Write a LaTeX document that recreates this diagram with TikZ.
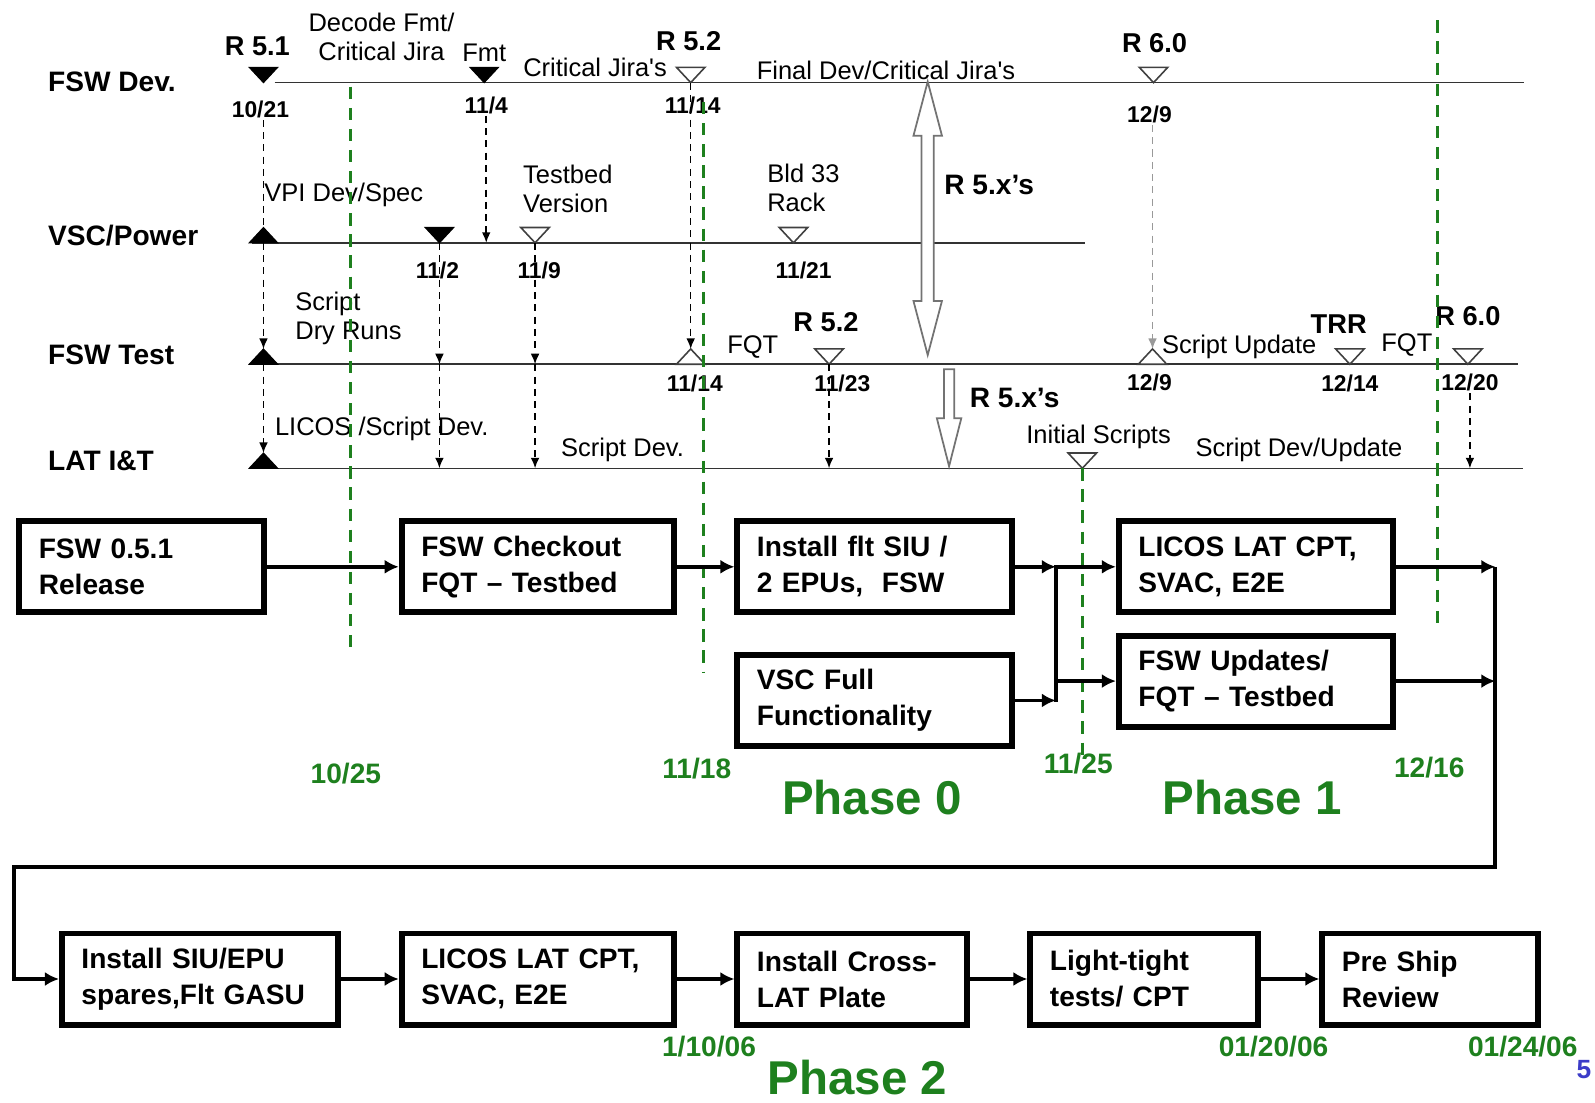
\documentclass[tikz,border=0pt]{standalone}
\usepackage{fontspec}
\setmainfont{Liberation Sans}
\usetikzlibrary{arrows.meta}
\definecolor{phasegreen}{RGB}{30,128,30}
\definecolor{pageblue}{RGB}{60,60,200}

\tikzset{
  tridown/.pic={\path[pic actions] (-14,-15) -- (14,-15) -- (0,0) -- cycle;
    \coordinate (-tip) at (0,0); \coordinate (-top) at (0,-15);},
  triup/.pic={\path[pic actions] (-14,0) -- (14,0) -- (0,-15) -- cycle;
    \coordinate (-base) at (0,0); \coordinate (-top) at (0,-15);}
}

\begin{document}
\begin{tikzpicture}[x=0.02034cm, y=-0.0204cm,
      lane/.style={font=\bfseries\fontsize{16}{19}\selectfont, anchor=west, inner sep=0},
      rel/.style={font=\bfseries\fontsize{15.5}{18}\selectfont, inner sep=0},
      day/.style={font=\bfseries\fontsize{13}{15}\selectfont, inner sep=1pt},
      note/.style={font=\fontsize{14.5}{16.5}\selectfont, inner sep=0},
      gdate/.style={font=\bfseries\fontsize{16}{19}\selectfont, text=phasegreen, inner sep=0},
      phase/.style={font=\bfseries\fontsize{27}{30}\selectfont, text=phasegreen, inner sep=0},
      task/.style={draw, line width=3.4pt, anchor=north west, align=left, inner xsep=0.39cm, inner ysep=0pt,
        minimum width=#1*0.02034cm, text width=#1*0.02034cm-0.78cm, minimum height=1.82cm,
        font=\bfseries\fontsize{16}{20.5}\selectfont},
      track/.style={line width=0.9pt, draw=black!80},
      flow/.style={line width=2.2pt, -{Latex[length=8pt,width=8pt]}},
      dep/.style={line width=0.9pt, dash pattern=on 4pt off 3pt, -{Latex[length=6pt,width=5pt]}},
      cutoff/.style={line width=1.7pt, draw=phasegreen, dash pattern=on 7pt off 5pt},
      hollow/.style={draw=black!55, fill=white, line width=1pt},
      fullmk/.style={draw=black, fill=black, line width=0.6pt},
      openmk/.style={draw=black!75, fill=white, line width=0.9pt}]

    \useasboundingbox (0,0) rectangle (1568,1081);

    % lanes
    \node[lane] (devlbl)  at (47,80)  {FSW Dev.};
    \node[lane] (vsclbl)  at (47,231) {VSC/Power};
    \node[lane] (testlbl) at (47,348) {FSW Test};
    \node[lane] (latlbl)  at (47,452) {LAT I\&T};
    \draw[track] (270,81) -- (1498,81);
    \draw[track] (248,238) -- (1067,238);
    \draw[track] (248,357) -- (1492,357);
    \draw[track] (248,459) -- (1497,459);

    % milestones
    \foreach \nm/\x/\y in {dA/259/81, dB/476/81, vB/432/238}
      \pic[fullmk] (\nm) at (\x,\y) {tridown};
    \foreach \nm/\x/\y in {vA/259/238, tA/259/357, lA/259/459}
      \pic[fullmk] (\nm) at (\x,\y) {triup};
    \foreach \nm/\x/\y in {dC/679/81, dD/1134/81, vC/526/238, vD/780/238, tC/815/357, tE/1327/357, tF/1443/357, lB/1064/459}
      \pic[openmk] (\nm) at (\x,\y) {tridown};
    \foreach \nm/\x/\y in {tB/679/357, tD/1133/357}
      \pic[openmk] (\nm) at (\x,\y) {triup};

    \node[rel] (r51) at (253,45) {R 5.1};
    \node[note, align=center] (decode) at (375,36) {Decode Fmt/\\Critical Jira};
    \node[note] (fmt) at (476,52) {Fmt};
    \node[note] (critj) at (585,66) {Critical Jira\textquotesingle s};
    \node[rel] (r52a) at (677,40) {R 5.2};
    \node[note] (finaldev) at (871,69) {Final Dev/Critical Jira\textquotesingle s};
    \node[rel] (r60a) at (1135,42) {R 6.0};
    \node[note] (vpi) at (338,191) {VPI Dev/Spec};
    \node[note, align=left, anchor=west] (testbed) at (514,185) {Testbed\\Version};
    \node[note, align=left, anchor=west] (bld33) at (754,184) {Bld 33\\Rack};
    \node[rel, font=\bfseries\fontsize{16}{19}\selectfont, anchor=west] (r5xa) at (928,181) {R 5.x’s};
    \node[note, align=left, anchor=west] (dryrun) at (290,312) {Script\\Dry Runs};
    \node[note] (fqta) at (740,340) {FQT};
    \node[rel] (r52b) at (812,316) {R 5.2};
    \node[rel, font=\bfseries\fontsize{16}{19}\selectfont, anchor=west] (r5xb) at (953,390) {R 5.x’s};
    \node[note, anchor=west] (scrupd) at (1142,340) {Script Update};
    \node[rel] (trr) at (1316,318) {TRR};
    \node[note] (fqtb) at (1383,338) {FQT};
    \node[rel] (r60b) at (1443,310) {R 6.0};
    \node[note, anchor=west] (licosdev) at (270,420) {LICOS /Script Dev.};
    \node[note] (scrdev) at (612,441) {Script Dev.};
    \node[note] (initscr) at (1080,428) {Initial Scripts};
    \node[note] (scrdevupd) at (1277,441) {Script Dev/Update};

    \node[day] (d1021)  at (256,107) {10/21};
    \node[day] (d114)   at (478,103) {11/4};
    \node[day] (d1114a) at (681,103) {11/14};
    \node[day] (d129a)  at (1130,112) {12/9};
    \node[day] (d112)   at (430,265) {11/2};
    \node[day] (d119)   at (530,265) {11/9};
    \node[day] (d1121)  at (790,265) {11/21};
    \node[day] (d1114b) at (683,376) {11/14};
    \node[day] (d1123)  at (828,376) {11/23};
    \node[day] (d129b)  at (1130,375) {12/9};
    \node[day] (d1214)  at (1327,376) {12/14};
    \node[day] (d1220)  at (1445,375) {12/20};

    % hand-offs between lanes
    \coordinate (vfmt) at (478,238);
    \draw[dep, -] (d1021.south -| vA-top) -- (vA-top);
    \draw[dep] (vA-base) -- (tA-top);
    \draw[dep] (tA-base) -- (lA-top);
    \draw[dep] (d114) -- (vfmt);
    \draw[dep] (vB-tip) -- (vB-tip |- tA-base);
    \draw[dep] (vB-tip |- tA-base) -- (vB-tip |- lA-base);
    \draw[dep] (vC-tip) -- (vC-tip |- tA-base);
    \draw[dep] (vC-tip |- tA-base) -- (vC-tip |- lA-base);
    \draw[dep] (dC-tip) -- (tB-top);
    \draw[dep] (tC-tip) -- (tC-tip |- lA-base);
    \draw[dep, draw=black!40] (d129a.south -| tD-top) -- (tD-top);
    \draw[dep] (d1220) -- (d1220 |- lA-base);

    \draw[hollow] (912,80) -- (926,133) -- (918,133) -- (918,295) -- (926,295) -- (912,348)
      -- (898,295) -- (906,295) -- (906,133) -- (898,133) -- cycle;
    \draw[hollow] (928,362) -- (938,362) -- (938,410) -- (945,410) -- (933,457)
      -- (921,410) -- (928,410) -- cycle;

    % phase cut-offs
    \draw[cutoff] (345,85) -- (345,640);
    \draw[cutoff] (692,100) -- (692,660);
    \draw[cutoff] (lB-tip) -- ++(0,281);
    \draw[cutoff] (1413,20) -- (1413,618);
    \node[gdate] (g1025) at (340,758) {10/25};
    \node[gdate] (g1118) at (685,753) {11/18};
    \node[gdate] (g1125) at (1060,748) {11/25};
    \node[gdate] (g1216) at (1405,752) {12/16};
    \node[phase] (ph0) at (857,782) {Phase 0};
    \node[phase] (ph1) at (1231,782) {Phase 1};
    \node[phase] (ph2) at (843,1056) {Phase 2};
    \node[gdate] (g0110) at (697,1026) {1/10/06};
    \node[gdate] (g0120) at (1252,1026) {01/20/06};
    \node[gdate] (g0124) at (1497,1026) {01/24/06};
    \node[font=\bfseries\fontsize{15}{18}\selectfont, text=pageblue, inner sep=0] (pgno) at (1557,1048) {5};

    % tasks
    \node[task=241] (fsw051)   at (16,508)   {FSW 0.5.1\\Release};
    \node[task=268] (checkout) at (392,508)  {FSW Checkout\\FQT – Testbed};
    \node[task=270] (install)  at (722,508)  {Install flt SIU /\\2 EPUs,\ \ FSW};
    \node[task=270] (vscfull)  at (722,639)  {VSC Full\\Functionality};
    \node[task=269] (licos1)   at (1097,508) {LICOS LAT CPT,\\SVAC, E2E};
    \node[task=269] (updates)  at (1097,620) {FSW Updates/\\FQT – Testbed};
    \node[task=271] (siu)      at (58,912)   {Install SIU/EPU\\spares,Flt GASU};
    \node[task=268] (licos2)   at (392,912)  {LICOS LAT CPT,\\SVAC, E2E};
    \node[task=226] (cross)    at (722,912)  {Install Cross-\\LAT Plate};
    \node[task=224] (light)    at (1010,912) {Light-tight\\tests/ CPT};
    \node[task=212] (preship)  at (1297,912) {Pre Ship\\Review};

    \coordinate (merge) at (1038,600);
    \coordinate (ret) at (1470,850);
    \coordinate (retL) at (14,850);
    \draw[flow] (fsw051.east) -- (fsw051.east -| checkout.west);
    \draw[flow] (checkout.east) -- (checkout.east -| install.west);
    \draw[flow] (install.east) -- (install.east -| merge);
    \draw[flow] (vscfull.east) -- (vscfull.east -| merge);
    \draw[line width=2.2pt, line cap=rect] (install.east -| merge) -- (vscfull.east -| merge);
    \draw[flow] (licos1.west -| merge) -- (licos1.west);
    \draw[flow] (updates.west -| merge) -- (updates.west);
    \draw[flow] (licos1.east) -- (licos1.east -| ret);
    \draw[flow] (updates.east) -- (updates.east -| ret);
    \draw[flow] (licos1.east -| ret) -- (ret) -- (retL) |- (siu.west);
    \draw[flow] (siu) -- (licos2);
    \draw[flow] (licos2) -- (cross);
    \draw[flow] (cross) -- (light);
    \draw[flow] (light) -- (preship);

\end{tikzpicture}
\end{document}
